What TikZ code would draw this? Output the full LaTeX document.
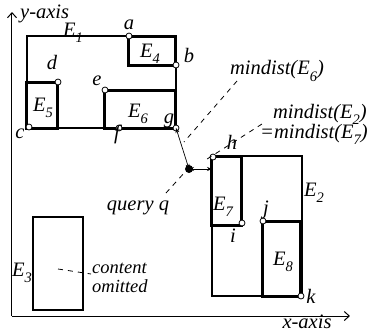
\documentclass[tikz,border=0pt]{standalone}
\usepackage{fontspec}
\setmainfont{Liberation Serif}[ItalicFont={Liberation Serif Italic}]
\usetikzlibrary{arrows.meta}
\newcommand\sbs[1]{\raisebox{-0.3em}{\fontsize{14.5}{14.5}\selectfont #1}}
\tikzset{
  thinbox/.style={draw,line width=1.1pt},
  thickbox/.style={draw,line width=3pt,line join=miter},
  pt/.style={circle,draw,fill=white,inner sep=0pt,minimum size=6pt,line width=0.8pt},
  qdot/.style={circle,fill=black,inner sep=0pt,minimum size=8pt},
  lbl/.style={inner sep=0pt},
  axis/.style={line width=1pt,-{Straight Barb[length=5pt,width=9pt]}},
  dist/.style={line width=0.7pt,{Stealth[length=5pt,width=4pt]}-{Stealth[length=5pt,width=4pt]}},
  lead/.style={line width=0.8pt,dash pattern=on 5pt off 5pt}
}
\begin{document}
\begin{tikzpicture}[x=1pt,y=-1pt,font=\fontsize{20.5}{22}\selectfont\itshape]
\useasboundingbox (0,0) rectangle (368,333);
% axes
\coordinate (O) at (12,316);
\coordinate (Ytip) at (12,12);
\coordinate (Xtip) at (350,316);
\draw[axis] (O) -- (Ytip);
\draw[axis] (O) -- (Xtip);
\node[lbl,anchor=base west] (ylab) at (20,18) {y-axis};
\node[lbl] (xlab) at (307,322) {x-axis};
% E1 and children
\draw[thinbox] (27,36) rectangle (176,128);
\draw[thickbox] (129,36) rectangle (176,65);
\draw[thickbox] (27,82) rectangle (58,128);
\draw[thickbox] (105,90) rectangle (176,128);
% E2 and children
\draw[thinbox] (212,156) rectangle (302,296);
\draw[thickbox] (212,156) rectangle (242,225);
\draw[thickbox] (263,221) rectangle (301,296);
% E3
\draw[thinbox] (33,217) rectangle (83,310);
% points
\node[pt] (a) at (129,36) {};
\node[pt] (b) at (176,65) {};
\node[pt] (c) at (29,127) {};
\node[pt] (d) at (58,82) {};
\node[pt] (e) at (105,90) {};
\node[pt] (f) at (119,128) {};
\node[pt] (g) at (176,128) {};
\node[pt] (h) at (213,157) {};
\node[pt] (i) at (242,223) {};
\node[pt] (j) at (263,221) {};
\node[pt] (k) at (301,296) {};
% point labels
\node[lbl] at (129,25) {a};
\node[lbl] at (189,55) {b};
\node[lbl] at (20,134) {c};
\node[lbl] at (52,62) {d};
\node[lbl] at (97,81) {e};
\node[lbl] at (117,134) {f};
\node[lbl] at (169,121) {g};
\node[lbl] at (232,142) {h};
\node[lbl] at (233,236) {i};
\node[lbl] at (266,210) {j};
\node[lbl] at (311,296) {k};
% entry labels
\node[lbl] (E1) at (73,33) {E\sbs{1}};
\node[lbl] (E4) at (150,54) {E\sbs{4}};
\node[lbl] (E5) at (43,108) {E\sbs{5}};
\node[lbl] (E6) at (138,114) {E\sbs{6}};
\node[lbl] (E7) at (223,207) {E\sbs{7}};
\node[lbl] (E8) at (283,262) {E\sbs{8}};
\node[lbl,anchor=west] (E2) at (304,193) {E\sbs{2}};
\node[lbl,anchor=east] (E3) at (32,273) {E\sbs{3}};
% query
\node[qdot] (q) at (189,169) {};
\coordinate (e7edge) at (212,169);
\draw[dist] (q.center) -- (g.center);
\draw[dist] (q.center) -- (e7edge);
\node[lbl] (qlab) at (138,208) {query q};
\coordinate (qlead) at (166,193);
\coordinate (qleadend) at (185,172);
\draw[lead] (qlead) -- (qleadend);
% mindist labels
\node[lbl] (m6) at (277,71) {mindist(E\sbs{6})};
\coordinate (m6a) at (237,81);
\coordinate (m6b) at (184,142);
\draw[lead] (m6a) -- (m6b);
\node[lbl,anchor=east] (m2) at (367,114) {mindist(E\sbs{2})};
\node[lbl,anchor=east] (m7) at (368,134) {=mindist(E\sbs{7})};
\coordinate (m2a) at (262,124);
\coordinate (m2b) at (204,161);
\draw[lead] (m2a) -- (m2b);
% content omitted
\coordinate (co1) at (58,269);
\coordinate (co2) at (91,274);
\draw[lead] (co1) -- (co2);
\node[lbl,anchor=base west,font=\fontsize{18.5}{20}\selectfont\itshape] (omit1) at (92,273) {content};
\node[lbl,anchor=base west,font=\fontsize{18.5}{20}\selectfont\itshape] (omit2) at (92,292) {omitted};
\end{tikzpicture}
\end{document}
